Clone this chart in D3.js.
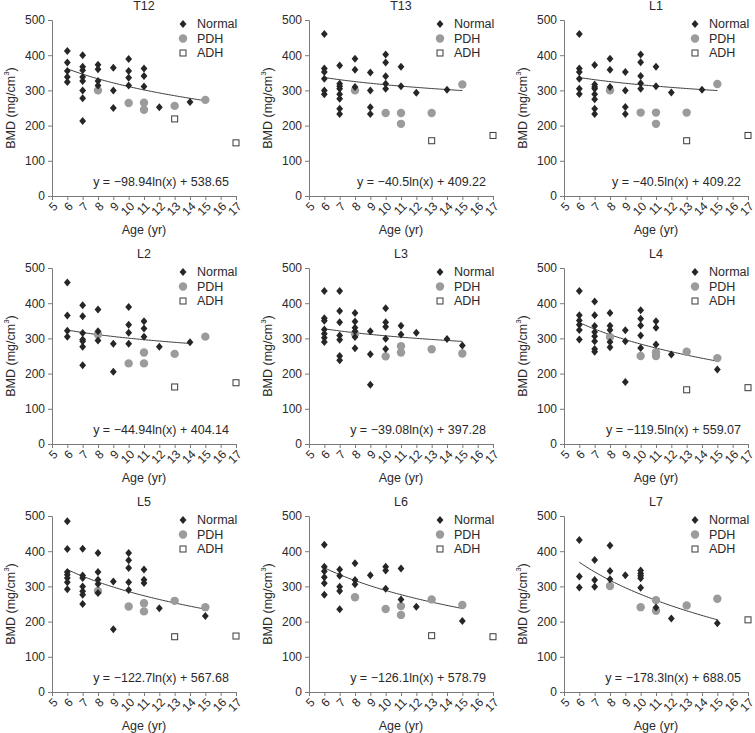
<!DOCTYPE html>
<html>
<head>
<meta charset="utf-8">
<script src="https://cdn.jsdelivr.net/npm/d3@7"></script>
<style>
  html, body { margin: 0; padding: 0; background: #fff; }
  svg { display: block; font-family: Arial, "Liberation Sans", sans-serif; }
</style>
</head>
<body>
<div id="chart"></div>
<script>
// ---- Data ----
const panelTitles = ["T12", "T13", "L1", "L2", "L3", "L4", "L5", "L6", "L7"];
const ageTicks = [5, 6, 7, 8, 9, 10, 11, 12, 13, 14, 15, 16, 17];
const bmdTicks = [0, 100, 200, 300, 400, 500];
const legendLabels = ["Normal", "PDH", "ADH"];

// Normal group: [age, BMD]
const t12Normal = [[6,412],[6,379],[6,355],[6,338],[6,324],[7,400],[7,367],[7,357],[7,338],[7,327],[7,300],[7,278],[7,213],[8,373],[8,360],[8,327],[8,314],[9,364],[9,300],[9,250],[10,389],[10,355],[10,336],[10,314],[11,362],[11,341],[11,311],[12,252],[14,267]];
const t13Normal = [[6,460],[6,362],[6,352],[6,333],[6,300],[6,289],[7,371],[7,319],[7,312],[7,305],[7,289],[7,276],[7,248],[7,233],[8,390],[8,359],[8,310],[9,351],[9,300],[9,252],[9,233],[10,402],[10,379],[10,340],[10,319],[10,305],[11,367],[11,312],[12,293],[14,302]];
const l1Normal = [[6,460],[6,362],[6,352],[6,333],[6,305],[6,290],[7,372],[7,317],[7,310],[7,305],[7,289],[7,275],[7,248],[7,233],[8,390],[8,359],[8,310],[9,352],[9,300],[9,253],[9,233],[10,402],[10,380],[10,341],[10,320],[10,305],[11,367],[11,312],[12,294],[14,302]];
const l2Normal = [[6,459],[6,365],[6,322],[6,305],[7,394],[7,363],[7,315],[7,297],[7,292],[7,276],[7,224],[8,382],[8,320],[8,294],[9,285],[9,205],[10,389],[10,339],[10,316],[10,285],[11,349],[11,328],[11,305],[12,276],[14,289]];
const l3Normal = [[6,435],[6,357],[6,350],[6,325],[6,313],[6,302],[6,290],[7,435],[7,378],[7,346],[7,308],[7,296],[7,250],[7,238],[8,372],[8,348],[8,330],[8,320],[8,304],[8,272],[9,320],[9,255],[9,168],[10,386],[10,346],[10,333],[10,299],[10,270],[11,336],[11,311],[12,316],[14,298],[15,280]];
const l4Normal = [[6,435],[6,366],[6,351],[6,339],[6,324],[6,297],[7,405],[7,366],[7,335],[7,318],[7,306],[7,292],[7,270],[7,262],[8,372],[8,336],[8,324],[8,290],[8,275],[9,323],[9,292],[9,176],[10,380],[10,356],[10,337],[10,308],[10,273],[11,349],[11,330],[11,283],[12,254],[15,212]];
const l5Normal = [[6,485],[6,406],[6,341],[6,333],[6,324],[6,312],[6,292],[7,407],[7,331],[7,324],[7,300],[7,286],[7,276],[7,250],[8,395],[8,341],[8,319],[8,307],[8,281],[9,314],[9,178],[10,395],[10,374],[10,352],[10,312],[10,290],[11,348],[11,319],[11,310],[12,238],[15,216]];
const l6Normal = [[6,418],[6,356],[6,343],[6,326],[6,309],[6,276],[7,348],[7,330],[7,299],[7,287],[7,235],[8,366],[8,318],[8,306],[9,332],[10,356],[10,345],[10,293],[11,351],[11,263],[12,242],[15,202]];
const l7Normal = [[6,432],[6,328],[6,297],[7,375],[7,318],[7,299],[8,416],[8,344],[8,320],[9,332],[10,345],[10,337],[10,330],[10,323],[10,296],[11,240],[12,209],[15,195]];

// PDH group
const t12PDH = [[8,300],[10,264],[11,265],[11,245],[13,256],[15,273]];
const t13PDH = [[8,300],[10,236],[11,236],[11,205],[13,236],[15,317]];
const l1PDH  = [[8,300],[10,237],[11,237],[11,205],[13,237],[15,318]];
const l2PDH  = [[8,311],[10,229],[11,260],[11,229],[13,256],[15,305]];
const l3PDH  = [[8,313],[10,249],[11,278],[11,260],[13,269],[15,257]];
const l4PDH  = [[8,304],[10,250],[11,261],[11,250],[13,262],[15,244]];
const l5PDH  = [[8,287],[10,243],[11,252],[11,229],[13,259],[15,241]];
const l6PDH  = [[8,269],[10,236],[11,244],[11,219],[13,263],[15,247]];
const l7PDH  = [[8,301],[10,241],[11,261],[11,231],[13,246],[15,265]];

// ADH group
const t12ADH = [[13,219],[17,151]];
const t13ADH = [[13,157],[17,172]];
const l1ADH  = [[13,157],[17,172]];
const l2ADH  = [[13,162],[17,174]];
const l3ADH  = [];
const l4ADH  = [[13,154],[17,160]];
const l5ADH  = [[13,157],[17,159]];
const l6ADH  = [[13,160],[17,157]];
const l7ADH  = [[17,205]];

// Logarithmic trend lines: y = slope*ln(x) + intercept
const trendSlopes = [-98.94, -40.5, -40.5, -44.94, -39.08, -119.5, -122.7, -126.1, -178.3];
const trendIntercepts = [538.65, 409.22, 409.22, 404.14, 397.28, 559.07, 567.68, 578.79, 688.05];
const trendStart = [6, 6, 6, 6, 6, 6, 6, 6, 6];
const trendEnd = [15, 15, 15, 14, 15, 15, 15, 15, 15];
const equationLabels = [
  "y = \u221298.94ln(x) + 538.65",
  "y = \u221240.5ln(x) + 409.22",
  "y = \u221240.5ln(x) + 409.22",
  "y = \u221244.94ln(x) + 404.14",
  "y = \u221239.08ln(x) + 397.28",
  "y = \u2212119.5ln(x) + 559.07",
  "y = \u2212122.7ln(x) + 567.68",
  "y = \u2212126.1ln(x) + 578.79",
  "y = \u2212178.3ln(x) + 688.05"
];

const normalSets = [t12Normal, t13Normal, l1Normal, l2Normal, l3Normal, l4Normal, l5Normal, l6Normal, l7Normal];
const pdhSets = [t12PDH, t13PDH, l1PDH, l2PDH, l3PDH, l4PDH, l5PDH, l6PDH, l7PDH];
const adhSets = [t12ADH, t13ADH, l1ADH, l2ADH, l3ADH, l4ADH, l5ADH, l6ADH, l7ADH];

// ---- Layout ----
const W = 755, H = 733;
const colLeft = [52, 309, 564];
const rowTop = [20, 268, 516];
const plotW = 184, plotH = 176;

const axisColor = "#7a7a7a";
const textColor = "#2a2a2a";
const normalColor = "#262626";
const pdhColor = "#9b9b9b";
const adhColor = "#3a3a3a";

// compact diamond marker (about 7 x 8 px)
const diamondType = {
  draw(ctx) {
    ctx.moveTo(0, -4);
    ctx.lineTo(3.4, 0);
    ctx.lineTo(0, 4);
    ctx.lineTo(-3.4, 0);
    ctx.closePath();
  }
};
const diamond = d3.symbol().type(diamondType);

const svg = d3.select("#chart").append("svg")
  .attr("width", W).attr("height", H);

panelTitles.forEach((title, i) => {
  const left = colLeft[i % 3];
  const top = rowTop[Math.floor(i / 3)];
  const x = d3.scaleLinear().domain([5, 17]).range([left, left + plotW]);
  const y = d3.scaleLinear().domain([0, 500]).range([top + plotH, top]);
  const g = svg.append("g");

  // Title
  g.append("text")
    .attr("x", left + plotW / 2).attr("y", top - 14)
    .attr("text-anchor", "middle").attr("dominant-baseline", "central")
    .attr("font-size", 12.5).attr("fill", textColor)
    .text(title);

  // Y axis
  const yAxis = d3.axisLeft(y).tickValues(bmdTicks).tickSize(4).tickPadding(3);
  const ya = g.append("g").attr("transform", `translate(${left},0)`).call(yAxis);
  ya.select(".domain").attr("stroke", axisColor);
  ya.selectAll(".tick line").attr("stroke", axisColor);
  ya.selectAll(".tick text").attr("font-size", 12).attr("fill", textColor)
    .attr("font-family", "Arial, 'Liberation Sans', sans-serif");

  // X axis
  const xAxis = d3.axisBottom(x).tickValues(ageTicks).tickSize(4).tickFormat(d3.format("d"));
  const xa = g.append("g").attr("transform", `translate(0,${top + plotH})`).call(xAxis);
  xa.select(".domain").attr("stroke", axisColor);
  xa.selectAll(".tick line").attr("stroke", axisColor);
  xa.selectAll(".tick text")
    .attr("font-size", 12).attr("fill", textColor)
    .attr("font-family", "Arial, 'Liberation Sans', sans-serif")
    .attr("text-anchor", "end")
    .attr("x", 3).attr("y", 8).attr("dy", "0.35em")
    .attr("transform", "rotate(-45, 3, 8)");

  // Axis titles
  g.append("text")
    .attr("x", left + plotW / 2).attr("y", top + plotH + 34)
    .attr("text-anchor", "middle").attr("dominant-baseline", "central")
    .attr("font-size", 12.5).attr("fill", textColor)
    .text("Age (yr)");

  const yl = g.append("text")
    .attr("transform", `translate(${left - 41},${top + plotH / 2}) rotate(-90)`)
    .attr("text-anchor", "middle").attr("dominant-baseline", "central")
    .attr("font-size", 12.5).attr("fill", textColor);
  yl.append("tspan").text("BMD (mg/cm");
  yl.append("tspan").attr("font-size", 8).attr("dy", -5).text("3");
  yl.append("tspan").attr("dy", 5).text(")");

  // Trend line
  const ages = d3.range(trendStart[i], trendEnd[i] + 0.001, 0.1);
  const line = d3.line()
    .x(a => x(a))
    .y(a => y(trendSlopes[i] * Math.log(a) + trendIntercepts[i]));
  g.append("path").datum(ages)
    .attr("d", line).attr("fill", "none")
    .attr("stroke", "#3a3a3a").attr("stroke-width", 1);

  // Points
  g.append("g").selectAll("circle").data(pdhSets[i]).join("circle")
    .attr("cx", d => x(d[0])).attr("cy", d => y(d[1])).attr("r", 4.2)
    .attr("fill", pdhColor);
  g.append("g").selectAll("path").data(normalSets[i]).join("path")
    .attr("d", diamond)
    .attr("transform", d => `translate(${x(d[0])},${y(d[1])})`)
    .attr("fill", normalColor);
  g.append("g").selectAll("rect").data(adhSets[i]).join("rect")
    .attr("x", d => x(d[0]) - 3).attr("y", d => y(d[1]) - 3)
    .attr("width", 6).attr("height", 6)
    .attr("fill", "#fff").attr("stroke", adhColor).attr("stroke-width", 1);

  // Legend
  const lx = left + 131, ly0 = top + 4, step = 14.5;
  const lg = g.append("g");
  lg.append("path").attr("d", diamond)
    .attr("transform", `translate(${lx},${ly0})`).attr("fill", normalColor);
  lg.append("circle").attr("cx", lx).attr("cy", ly0 + step).attr("r", 4.2).attr("fill", pdhColor);
  lg.append("rect").attr("x", lx - 3).attr("y", ly0 + 2 * step - 3)
    .attr("width", 6).attr("height", 6)
    .attr("fill", "#fff").attr("stroke", adhColor).attr("stroke-width", 1);
  legendLabels.forEach((lab, k) => {
    lg.append("text")
      .attr("x", lx + 14).attr("y", ly0 + k * step)
      .attr("dominant-baseline", "central")
      .attr("font-size", 12.5).attr("fill", textColor)
      .text(lab);
  });

  // Equation
  g.append("text")
    .attr("x", left + plotW - 7).attr("y", top + 162)
    .attr("text-anchor", "end").attr("dominant-baseline", "central")
    .attr("font-size", 12.5).attr("fill", textColor)
    .text(equationLabels[i]);
});
</script>
</body>
</html>
